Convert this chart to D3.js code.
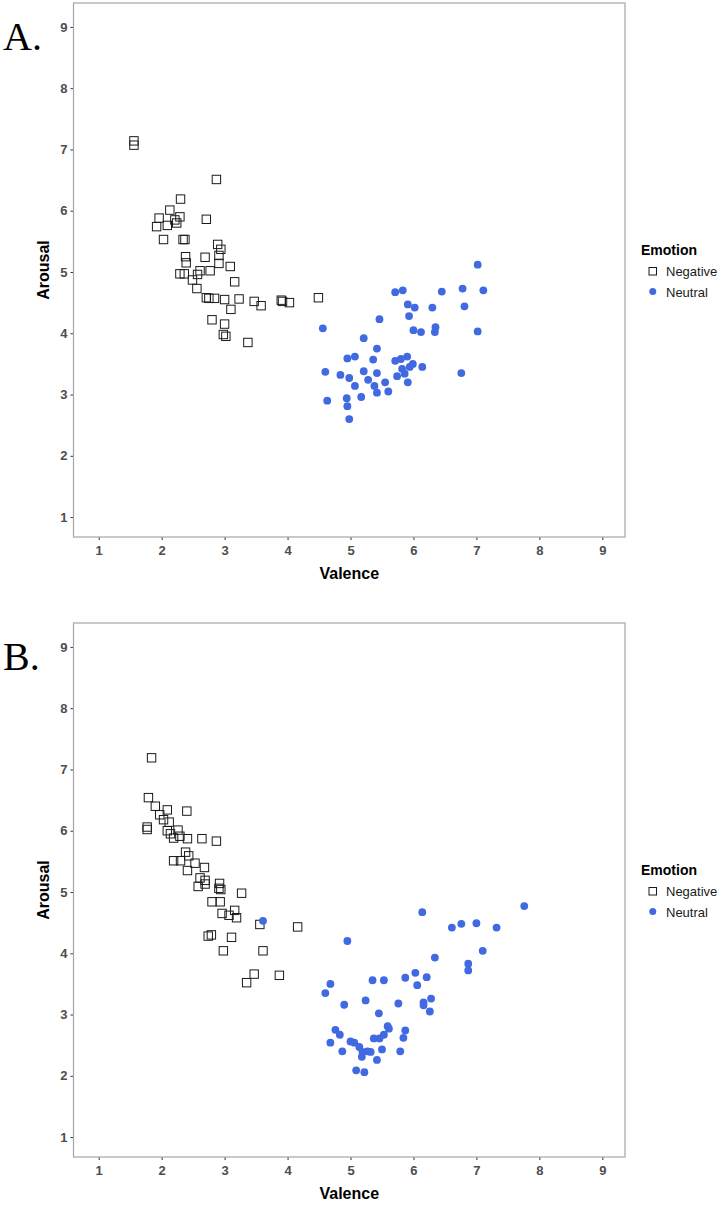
<!DOCTYPE html>
<html>
<head>
<meta charset="utf-8">
<script src="https://cdn.jsdelivr.net/npm/d3@7"></script>
<style>
  body { margin: 0; background: #fff; }
  svg { display: block; font-family: "Liberation Sans", Arial, sans-serif; }
  .tick-label { font-size: 13px; font-weight: bold; fill: #4d4d4d; }
  .axis-title { font-size: 16px; font-weight: bold; fill: #000; }
  .legend-title { font-size: 14px; font-weight: bold; fill: #000; }
  .legend-label { font-size: 13px; fill: #1a1a1a; }
  .panel-letter { font-family: "Liberation Serif", "Times New Roman", serif; font-size: 40px; fill: #000; }
</style>
</head>
<body>
<script>
'use strict';

// Panel A: [valence, arousal]
var negativeA = [
  [1.56, 7.14], [1.56, 7.07], [2.87, 6.51], [2.30, 6.19], [2.13, 6.01],
  [2.29, 5.90], [1.96, 5.88], [2.21, 5.85], [2.24, 5.80], [1.92, 5.74],
  [2.09, 5.76], [2.71, 5.86], [2.03, 5.53], [2.34, 5.53], [2.37, 5.53],
  [2.89, 5.45], [2.94, 5.37], [2.38, 5.25], [2.39, 5.15], [2.69, 5.24],
  [2.91, 5.27], [2.91, 5.14], [3.09, 5.09], [2.29, 4.97], [2.36, 4.97],
  [2.57, 4.96], [2.61, 5.02], [2.77, 5.02], [2.49, 4.87], [3.16, 4.84],
  [2.56, 4.73], [2.71, 4.58], [2.75, 4.57], [2.84, 4.57], [3.00, 4.55],
  [3.23, 4.56], [3.47, 4.52], [3.58, 4.45], [3.90, 4.54], [3.92, 4.52],
  [4.03, 4.50], [4.49, 4.58], [3.10, 4.39], [2.80, 4.22], [3.00, 4.15],
  [2.98, 3.98], [3.02, 3.95], [3.37, 3.85]
];
var neutralA = [
  [7.02, 5.12], [5.71, 4.67], [5.83, 4.70], [6.45, 4.68], [6.78, 4.73],
  [7.11, 4.70], [5.91, 4.47], [6.02, 4.42], [6.30, 4.42], [6.81, 4.44],
  [5.93, 4.28], [5.46, 4.23], [4.56, 4.08], [6.00, 4.05], [6.12, 4.02],
  [6.35, 4.10], [6.34, 4.02], [7.02, 4.03], [5.21, 3.92], [5.42, 3.75],
  [4.95, 3.59], [5.07, 3.62], [5.36, 3.57], [5.71, 3.55], [5.80, 3.58],
  [5.90, 3.62], [5.99, 3.50], [5.94, 3.45], [5.82, 3.42], [5.86, 3.34],
  [6.14, 3.45], [6.76, 3.35], [4.60, 3.37], [4.84, 3.32], [4.98, 3.27],
  [5.21, 3.38], [5.42, 3.35], [5.28, 3.24], [5.07, 3.14], [5.38, 3.14],
  [5.55, 3.20], [5.74, 3.30], [5.91, 3.20], [5.42, 3.03], [5.60, 3.05],
  [5.17, 2.96], [4.94, 2.94], [4.63, 2.90], [4.95, 2.81], [4.98, 2.60]
];

// Panel B: [valence, arousal]
var negativeB = [
  [1.84, 7.19], [1.79, 6.54], [1.90, 6.40], [2.09, 6.34], [2.40, 6.32],
  [1.97, 6.26], [2.03, 6.18], [2.12, 6.14], [1.77, 6.06], [1.77, 6.02],
  [2.09, 6.00], [2.26, 6.01], [2.14, 5.95], [2.19, 5.88], [2.29, 5.91],
  [2.41, 5.87], [2.64, 5.87], [2.87, 5.83], [2.38, 5.65], [2.43, 5.59],
  [2.19, 5.51], [2.30, 5.51], [2.53, 5.47], [2.68, 5.40], [2.41, 5.35],
  [2.61, 5.23], [2.69, 5.19], [2.58, 5.09], [2.69, 5.13], [2.92, 5.14],
  [2.91, 5.06], [2.94, 5.04], [3.27, 4.98], [2.80, 4.84], [2.93, 4.84],
  [2.96, 4.65], [3.16, 4.70], [3.07, 4.62], [3.19, 4.58], [3.56, 4.47],
  [4.16, 4.43], [2.74, 4.28], [2.79, 4.30], [3.11, 4.26], [2.98, 4.04],
  [3.61, 4.04], [3.47, 3.66], [3.87, 3.64], [3.35, 3.52]
];
var neutralB = [
  [3.61, 4.53], [7.76, 4.77], [6.14, 4.67], [6.61, 4.42], [6.76, 4.48],
  [7.00, 4.49], [7.32, 4.42], [4.95, 4.20], [7.10, 4.04], [6.34, 3.93],
  [6.87, 3.83], [6.87, 3.72], [4.68, 3.50], [4.60, 3.35], [5.35, 3.56],
  [5.53, 3.56], [5.87, 3.60], [6.03, 3.68], [6.21, 3.61], [6.06, 3.48],
  [4.90, 3.16], [5.24, 3.23], [5.76, 3.18], [6.16, 3.20], [6.16, 3.15],
  [6.28, 3.26], [6.26, 3.05], [5.45, 3.02], [5.59, 2.81], [5.61, 2.77],
  [4.76, 2.75], [4.83, 2.67], [5.87, 2.74], [5.84, 2.62], [4.68, 2.54],
  [5.00, 2.56], [5.06, 2.54], [5.14, 2.47], [5.37, 2.61], [5.46, 2.61],
  [5.53, 2.67], [4.87, 2.40], [5.50, 2.43], [5.79, 2.40], [5.19, 2.39],
  [5.27, 2.40], [5.32, 2.39], [5.42, 2.26], [5.18, 2.31], [5.09, 2.09],
  [5.22, 2.06]
];

var ticks = [1, 2, 3, 4, 5, 6, 7, 8, 9];
var legendLabels = ['Negative', 'Neutral'];
var panelLetters = ['A.', 'B.'];

var W = 726, H = 1205;
var blue = '#4169e1';
var margin = {left: 73.5, right: 101, top: 3, bottom: 83};
var panelH = 620;

var svg = d3.select('body').append('svg')
  .attr('width', W).attr('height', H);

var x = d3.scaleLinear().domain([0.6, 9.36]).range([margin.left, W - margin.right]);
var y = d3.scaleLinear().domain([0.675, 9.39]).range([panelH - margin.bottom, margin.top]);

function translation(tx, ty) {
  return 'translate(' + tx + ',' + ty + ')';
}

function drawPanel(offsetY, negative, neutral, letter) {
  var g = svg.append('g').attr('transform', translation(0, offsetY));
  var x0 = x.range()[0], x1 = x.range()[1];
  var y0 = y.range()[1], y1 = y.range()[0];

  // X axis
  var xAxis = d3.axisBottom(x).tickValues(ticks).tickSize(3).tickPadding(3);
  var gx = g.append('g').attr('transform', translation(0, y1)).call(xAxis);
  gx.select('.domain').remove();
  gx.selectAll('.tick line').attr('stroke', '#333').attr('stroke-width', 1);
  gx.selectAll('.tick text').attr('class', 'tick-label').attr('dy', '0.9em');

  // Y axis
  var yAxis = d3.axisLeft(y).tickValues(ticks).tickSize(3).tickPadding(3);
  var gy = g.append('g').attr('transform', translation(x0, 0)).call(yAxis);
  gy.select('.domain').remove();
  gy.selectAll('.tick line').attr('stroke', '#333').attr('stroke-width', 1);
  gy.selectAll('.tick text').attr('class', 'tick-label');

  // Panel border
  g.append('rect')
    .attr('x', x0).attr('y', y0)
    .attr('width', x1 - x0).attr('height', y1 - y0)
    .attr('fill', 'none').attr('stroke', '#a6a6a6').attr('stroke-width', 1.2);

  // Points
  g.append('g').selectAll('rect.neg').data(negative).enter()
    .append('rect')
    .attr('class', 'neg')
    .attr('x', function(d) { return x(d[0]) - 4.2; })
    .attr('y', function(d) { return y(d[1]) - 4.2; })
    .attr('width', 8.4).attr('height', 8.4)
    .attr('fill', 'none').attr('stroke', '#1a1a1a').attr('stroke-width', 1);

  g.append('g').selectAll('circle').data(neutral).enter()
    .append('circle')
    .attr('cx', function(d) { return x(d[0]); })
    .attr('cy', function(d) { return y(d[1]); })
    .attr('r', 3.9)
    .attr('fill', blue);

  // Axis titles
  g.append('text').attr('class', 'axis-title')
    .attr('x', (x0 + x1) / 2).attr('y', y1 + 42)
    .attr('text-anchor', 'middle').text('Valence');
  g.append('text').attr('class', 'axis-title')
    .attr('transform', translation(49, (y0 + y1) / 2) + ' rotate(-90)')
    .attr('text-anchor', 'middle').text('Arousal');

  // Legend
  var lg = g.append('g').attr('transform', translation(x1 + 16, 255));
  lg.append('text').attr('class', 'legend-title').attr('x', 0).attr('y', 0).text('Emotion');
  lg.append('rect')
    .attr('x', 8).attr('y', 12.5).attr('width', 7.5).attr('height', 7.5)
    .attr('fill', 'none').attr('stroke', '#1a1a1a').attr('stroke-width', 1);
  lg.append('circle').attr('cx', 11.75).attr('cy', 36.5).attr('r', 3.5).attr('fill', blue);
  lg.selectAll('text.legend-label').data(legendLabels).enter()
    .append('text').attr('class', 'legend-label')
    .attr('x', 25)
    .attr('y', function(d, i) { return 21 + i * 20.5; })
    .text(function(d) { return d; });

  // Panel letter
  g.append('text').attr('class', 'panel-letter')
    .attr('x', 3).attr('y', 50).text(letter);
}

drawPanel(0, negativeA, neutralA, panelLetters[0]);
drawPanel(panelH, negativeB, neutralB, panelLetters[1]);
</script>
</body>
</html>
